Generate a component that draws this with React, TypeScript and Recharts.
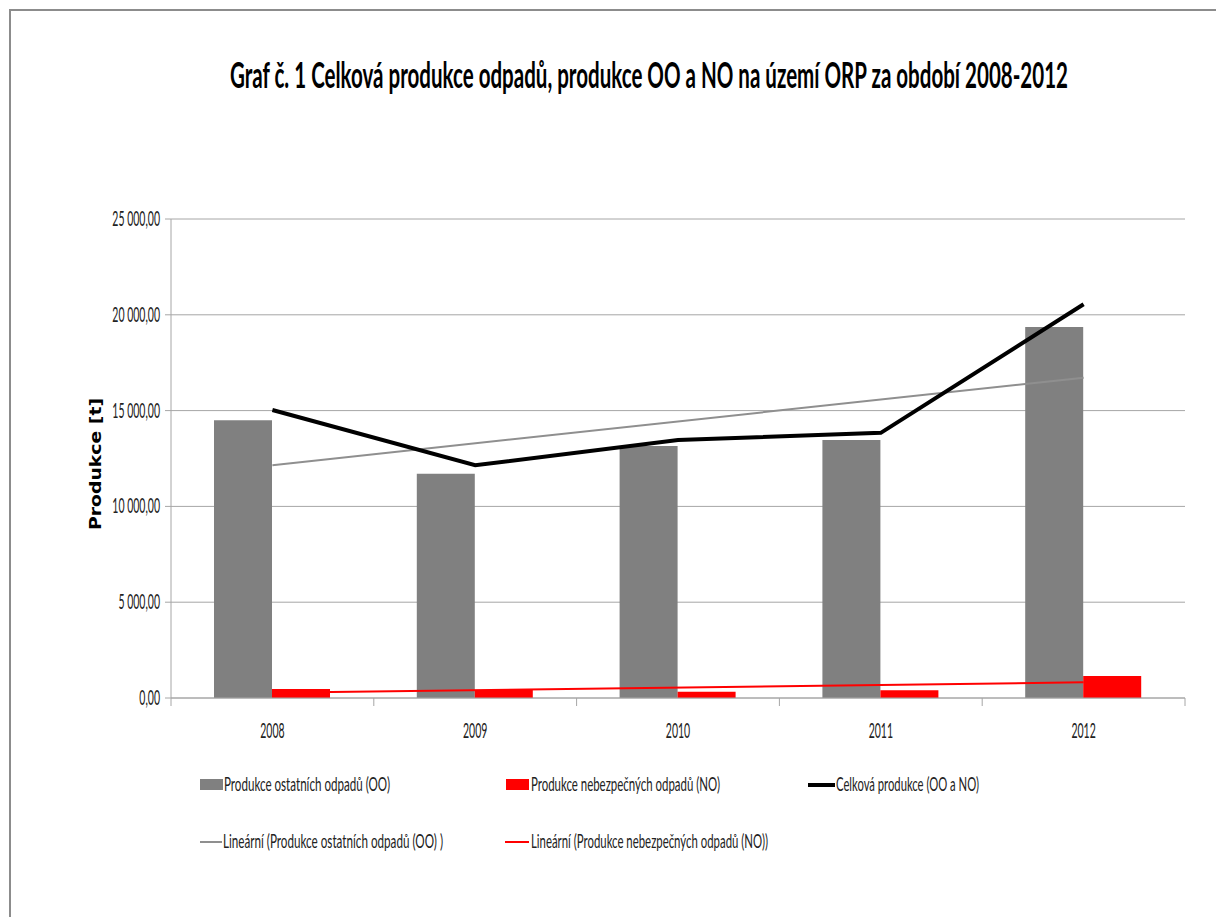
import React from 'react';
import { ComposedChart, Bar, Line, XAxis, YAxis, CartesianGrid } from 'recharts';

const years = ['2008', '2009', '2010', '2011', '2012'];
const ostatniOdpady = [14500, 11700, 13150, 13460, 19360];
const nebezpecneOdpady = [470, 420, 320, 400, 1150];
const celkovaProdukce = [15030, 12150, 13460, 13840, 20550];
const trendOstatni = [12150, null, null, null, 16720];
const trendNebezpecne = [270, null, null, null, 820];
const yTicks = [0, 5000, 10000, 15000, 20000, 25000];

const titleText = 'Graf č. 1 Celková produkce odpadů, produkce OO a NO na území ORP za období 2008-2012';
const yAxisTitle = 'Produkce [t]';
const legendNames = [
  'Produkce ostatních odpadů (OO)',
  'Produkce nebezpečných odpadů (NO)',
  'Celková produkce (OO a NO)',
  'Lineární (Produkce ostatních odpadů (OO) )',
  'Lineární (Produkce nebezpečných odpadů (NO))',
];

const data = years.map((year, i) => ({
  year,
  oo: ostatniOdpady[i],
  no: nebezpecneOdpady[i],
  total: celkovaProdukce[i],
  tOO: trendOstatni[i],
  tNO: trendNebezpecne[i],
}));

const W = 1216;
const H = 917;
const M = { top: 219, right: 31, bottom: 169, left: 111 };
const Y_AXIS_W = 60;
const X_AXIS_H = 50;
const PLOT_W = W - M.left - M.right - Y_AXIS_W;
const BAND = PLOT_W / years.length;

const AXIS = '#a6a6a6';
const TEXT = '#222';
const GREY = '#808080';
const RED = '#ff0000';
const FONT = 'Lato, "Open Sans", sans-serif';
const SX = 0.5;

const fmt = (v: number) => {
  const s = Math.round(v).toString().replace(/\B(?=(\d{3})+(?!\d))/g, ' ');
  return s + ',00';
};

const Squash = ({ x, y, anchor, children, size = 21, sx = SX }: any) => (
  <text
    transform={`translate(${x},${y}) scale(${sx},1)`}
    textAnchor={anchor}
    fontFamily={FONT}
    fontSize={size}
    fill={TEXT}
  >
    {children}
  </text>
);

const XTick = (props: any) => {
  const { x, y, payload, index } = props;
  const half = BAND / 2;
  return (
    <g>
      {index === 0 && <line x1={x - half} x2={x - half} y1={y} y2={y + 8} stroke={AXIS} strokeWidth={1} />}
      <line x1={x + half} x2={x + half} y1={y} y2={y + 8} stroke={AXIS} strokeWidth={1} />
      <Squash x={x} y={y + 40} anchor="middle">{payload.value}</Squash>
    </g>
  );
};

const YTick = (props: any) => {
  const { x, y, payload } = props;
  return <Squash x={x} y={y + 7} anchor="end">{fmt(payload.value)}</Squash>;
};

export default function App() {
  return (
    <div style={{ position: 'fixed', left: 0, top: 0, width: W, height: H, overflow: 'hidden', background: '#fff' }}>
      <div
        style={{
          position: 'absolute',
          left: 9,
          top: 9,
          width: 1400,
          height: 1100,
          border: '2px solid #8c8c8c',
        }}
      />
      <div style={{ position: 'absolute', left: 0, top: 0 }}>
        <ComposedChart width={W} height={H} data={data} margin={M} barGap={0}>
          <CartesianGrid horizontal vertical={false} stroke={AXIS} strokeWidth={1} />
          <XAxis
            dataKey="year"
            height={X_AXIS_H}
            axisLine={{ stroke: AXIS, strokeWidth: 1 }}
            tickLine={false}
            tickSize={0}
            tickMargin={0}
            tick={<XTick />}
            interval={0}
          />
          <YAxis
            width={Y_AXIS_W}
            domain={[0, 25000]}
            ticks={yTicks}
            axisLine={{ stroke: AXIS, strokeWidth: 1 }}
            tickLine={{ stroke: AXIS, strokeWidth: 1 }}
            tickSize={6}
            tickMargin={5}
            tick={<YTick />}
            interval={0}
          />
          <Bar dataKey="oo" fill={GREY} barSize={58} isAnimationActive={false} />
          <Bar dataKey="no" fill={RED} barSize={58} isAnimationActive={false} />
          <Line dataKey="tOO" stroke="#8f8f8f" strokeWidth={2} dot={false} connectNulls isAnimationActive={false} />
          <Line dataKey="tNO" stroke={RED} strokeWidth={2} dot={false} connectNulls isAnimationActive={false} />
          <Line dataKey="total" stroke="#000" strokeWidth={4} dot={false} isAnimationActive={false} />
        </ComposedChart>
      </div>
      <svg width={W} height={H} style={{ position: 'absolute', left: 0, top: 0, pointerEvents: 'none' }}>
        <text
          x={649}
          y={88}
          textAnchor="middle"
          fontFamily={FONT}
          fontWeight={700}
          fontSize={36}
          fill="#000"
          textLength={838}
          lengthAdjust="spacingAndGlyphs"
        >
          {titleText}
        </text>
        <text
          transform="translate(101,464) rotate(-90)"
          textAnchor="middle"
          fontFamily='"DejaVu Sans", Verdana, sans-serif'
          fontWeight={700}
          fontSize={15}
          fill="#000"
          textLength={132}
          lengthAdjust="spacingAndGlyphs"
        >
          {yAxisTitle}
        </text>
        {/* legend row 1 */}
        <rect x={200} y={779} width={23} height={11} fill={GREY} />
        <text x={224} y={791} fontFamily={FONT} fontSize={20} fill={TEXT} textLength={166} lengthAdjust="spacingAndGlyphs">{legendNames[0]}</text>
        <rect x={506} y={779} width={23} height={11} fill={RED} />
        <text x={531} y={791} fontFamily={FONT} fontSize={20} fill={TEXT} textLength={189} lengthAdjust="spacingAndGlyphs">{legendNames[1]}</text>
        <line x1={808} x2={835} y1={785} y2={785} stroke="#000" strokeWidth={4} />
        <text x={836} y={791} fontFamily={FONT} fontSize={20} fill={TEXT} textLength={143} lengthAdjust="spacingAndGlyphs">{legendNames[2]}</text>
        {/* legend row 2 */}
        <line x1={200} x2={222} y1={842} y2={842} stroke="#8f8f8f" strokeWidth={2} />
        <text x={223} y={848} fontFamily={FONT} fontSize={20} fill={TEXT} textLength={220} lengthAdjust="spacingAndGlyphs">{legendNames[3]}</text>
        <line x1={505} x2={529} y1={842} y2={842} stroke={RED} strokeWidth={2} />
        <text x={531} y={848} fontFamily={FONT} fontSize={20} fill={TEXT} textLength={237} lengthAdjust="spacingAndGlyphs">{legendNames[4]}</text>
      </svg>
    </div>
  );
}
